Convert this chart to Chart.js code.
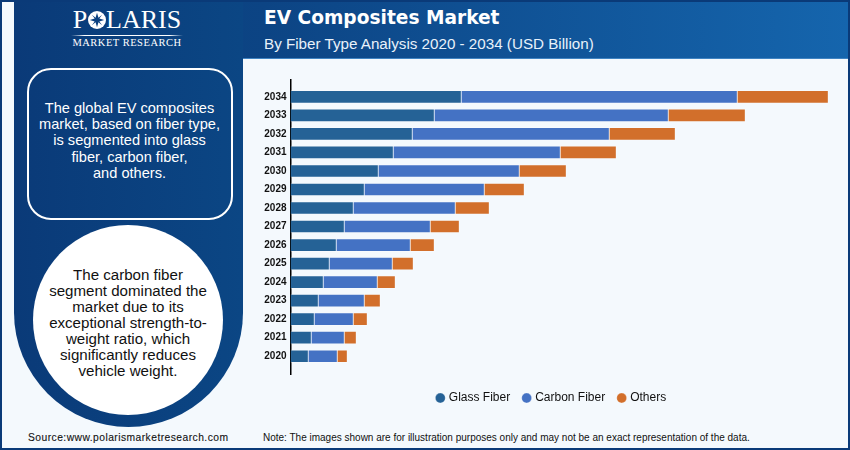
<!DOCTYPE html>
<html>
<head>
<meta charset="utf-8">
<title>EV Composites Market</title>
<script src="https://cdn.jsdelivr.net/npm/chart.js@4"></script>
<style>
  html, body { margin: 0; padding: 0; }
  body { width: 850px; height: 450px; overflow: hidden; position: relative; background: #f4f9fd; font-family: "Liberation Sans", Arial, sans-serif; }
  .frame { position: absolute; left: 0; top: 0; width: 846px; height: 446px; border: 2px solid #0a3a78; }
  .header { position: absolute; left: 14px; top: 2px; width: 834px; height: 56px; background: linear-gradient(90deg, #0a3c7b 0%, #0c4484 30%, #1565ad 100%); border-bottom: 1px solid #3f83c2; }
  .side { position: absolute; left: 14px; top: 2px; width: 229px; height: 425px; background: linear-gradient(90deg, #0a3a78, #0b4684); border-radius: 0 0 114.5px 114.5px; }
  .logo { position: absolute; left: 71px; top: 5px; width: 112px; color: #fff; font-family: "Liberation Serif", serif; text-align: center; }
  .logo .name { font-size: 26px; line-height: 30px; white-space: nowrap; }
  .logo .o { position: relative; display: inline-block; color: transparent; }
  .logo svg { position: absolute; left: 0.4px; top: 5.5px; width: 18px; height: 18px; }
  .logo .rule { height: 1px; background: linear-gradient(90deg, transparent, #fff 12%, #fff 88%, transparent); }
  .logo .sub { font-size: 10.5px; line-height: 14px; letter-spacing: 0.5px; white-space: nowrap; }
  .box { position: absolute; left: 27px; top: 68px; width: 202px; height: 148px; border: 2px solid #fff; border-radius: 24px; }
  .boxtext { position: absolute; left: 27px; top: 100px; width: 205px; color: #fff; font-size: 14.6px; line-height: 16.2px; text-align: center; }
  .circle { position: absolute; left: 33px; top: 225px; width: 190px; height: 190px; background: #fff; border-radius: 50%; }
  .circletext { position: absolute; left: 33px; top: 267px; width: 190px; color: #111; font-size: 15.1px; line-height: 16px; text-align: center; }
  .title { position: absolute; left: 264px; top: 6px; color: #fff; font-family: "DejaVu Sans", sans-serif; font-weight: bold; font-size: 18.6px; line-height: 24px; white-space: nowrap; }
  .subtitle { position: absolute; left: 264px; top: 35px; color: #e8f1fa; font-size: 15.2px; line-height: 18px; white-space: nowrap; }
  .source { position: absolute; left: 28px; top: 431px; color: #111; font-size: 10.3px; line-height: 13px; letter-spacing: 0.45px; white-space: nowrap; -webkit-text-stroke: 0.1px #111; }
  .note { position: absolute; left: 263px; top: 431px; color: #111; font-size: 10px; line-height: 13px; white-space: nowrap; }
  .plot { position: absolute; left: 254px; top: 70px; width: 594px; height: 344px; }
</style>
</head>
<body>
<div class="frame"></div>
<div class="header"></div>
<div class="side"></div>
<div class="logo">
  <div class="name">P<span class="o">O<svg viewBox="-10 -10 20 20"><circle r="10" fill="#fff"/><path d="M0-8 1.6-2.6 5.7-5.7 2.6-1.6 8 0 2.6 1.6 5.7 5.7 1.6 2.6 0 8-1.6 2.6-5.7 5.7-2.6 1.6-8 0-2.6-1.6-5.7-5.7-1.6-2.6Z" fill="#0b4080"/></svg></span>LARIS</div>
  <div class="rule"></div>
  <div class="sub">MARKET RESEARCH</div>
</div>
<div class="box"></div>
<div class="boxtext">The global EV composites<br>market, based on fiber type,<br>is segmented into glass<br>fiber, carbon fiber,<br>and others.</div>
<div class="circle"></div>
<div class="circletext">The carbon fiber<br>segment dominated the<br>market due to its<br>exceptional strength-to-<br>weight ratio, which<br>significantly reduces<br>vehicle weight.</div>
<div class="title">EV Composites Market</div>
<div class="subtitle">By Fiber Type Analysis 2020 - 2034 (USD Billion)</div>
<div class="source">Source:www.polarismarketresearch.com</div>
<div class="note">Note: The images shown are for illustration purposes only and may not be an exact representation of the data.</div>
<div class="plot"><canvas id="chart" width="594" height="344"></canvas></div>

<script>
// values, the reference has no value axis
var years = [2020, 2021, 2022, 2023, 2024, 2025, 2026, 2027, 2028, 2029, 2030, 2031, 2032, 2033, 2034];
var glassFiber = [1.8, 2.1, 2.4, 2.8, 3.3, 3.9, 4.6, 5.4, 6.3, 7.4, 8.8, 10.3, 12.2, 14.4, 17.1];
var carbonFiber = [2.9, 3.3, 3.9, 4.6, 5.4, 6.3, 7.4, 8.6, 10.2, 12.0, 14.1, 16.7, 19.7, 23.4, 27.6];
var others = [1.0, 1.2, 1.4, 1.6, 1.8, 2.1, 2.4, 2.9, 3.4, 4.0, 4.7, 5.6, 6.6, 7.7, 9.1];

function toPoints(values) {
  return values.map(function (v, i) {
    return { x: v, y: years[i] };
  });
}

function makeDataset(label, values, color) {
  return {
    label: label,
    data: toPoints(values),
    backgroundColor: color,
    borderColor: "rgba(255,255,255,0.25)",
    borderWidth: 1,
    barThickness: 13,
  };
}

new Chart(document.getElementById("chart"), {
  type: "bar",
  data: {
    datasets: [
      makeDataset("Glass Fiber", glassFiber, "#256296"),
      makeDataset("Carbon Fiber", carbonFiber, "#4472c4"),
      makeDataset("Others", others, "#d26f2b"),
    ],
  },
  options: {
    indexAxis: "y",
    responsive: false,
    animation: false,
    layout: { padding: { top: 8, left: 2 } },
    scales: {
      x: {
        stacked: true,
        min: 0,
        max: 55.75,
        grid: { display: false },
        border: { display: false },
        ticks: { display: false },
        afterFit: function (scale) {
          scale.height = 4;
        },
      },
      y: {
        type: "linear",
        stacked: true,
        offset: false,
        min: 2019.04,
        max: 2034.91,
        grid: { display: false, offset: false, tickLength: 0 },
        border: { color: "#000", width: 1.5 },
        afterBuildTicks: function (scale) {
          scale.ticks = years.map(function (y) {
            return { value: y };
          });
        },
        ticks: {
          autoSkip: false,
          padding: 4,
          color: "#111",
          font: { family: "Liberation Sans", size: 10, weight: "bold" },
          callback: function (value) {
            return String(value);
          },
        },
        afterFit: function (scale) {
          scale.width = 34.5;
        },
      },
    },
    plugins: {
      tooltip: { enabled: false },
      legend: {
        position: "bottom",
        labels: {
          usePointStyle: true,
          pointStyle: "circle",
          boxWidth: 5,
          boxHeight: 7,
          padding: 14,
          color: "#111",
          font: { family: "Liberation Sans", size: 12 },
        },
      },
    },
  },
});
</script>
</body>
</html>
